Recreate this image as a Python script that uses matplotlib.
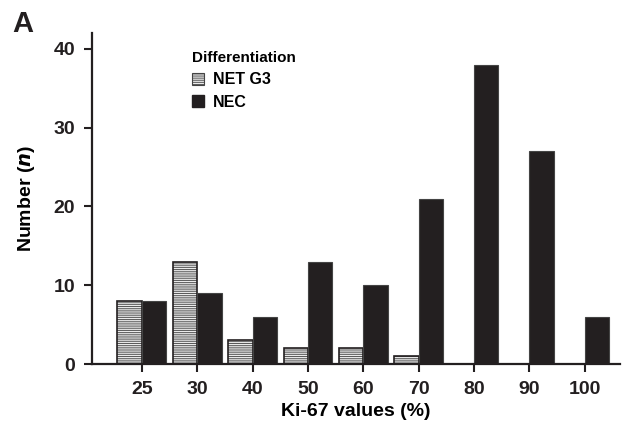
import numpy as np
import matplotlib
matplotlib.use("Agg")
import matplotlib.pyplot as plt
from matplotlib.patches import Patch

# データ
ki67_labels = ["25", "30", "40", "50", "60", "70", "80", "90", "100"]
net_g3 = [8, 13, 3, 2, 2, 1, 0, 0, 0]
nec = [8, 9, 6, 13, 10, 21, 38, 27, 6]

plt.rcParams["font.family"] = ["Liberation Sans", "DejaVu Sans"]
plt.rcParams["font.weight"] = "bold"
plt.rcParams["hatch.linewidth"] = 0.7
plt.rcParams["hatch.color"] = "#555555"

fig = plt.figure(figsize=(6.26, 4.24), dpi=100)
ax = fig.add_axes([0.147, 0.1415, 0.843, 0.7805])

x = np.arange(len(ki67_labels))
w = 0.44
dark = "#231f20"

net_arr = np.array(net_g3, dtype=float)
mask = net_arr > 0
# ハッチ部分とその枠を別々に描く
ax.bar(x[mask] - w / 2, net_arr[mask], width=w, color="white",
       edgecolor="#555555", hatch="---------", linewidth=0)
ax.bar(x[mask] - w / 2, net_arr[mask], width=w, fill=False,
       edgecolor=dark, linewidth=1.2)
ax.bar(x + w / 2, nec, width=w, color=dark, edgecolor="#444444", linewidth=0.8)

ax.set_xlim(-0.9, 8.63)
ax.set_ylim(0, 42)
ax.set_xticks(x)
ax.set_xticklabels(ki67_labels)
ax.set_yticks([0, 10, 20, 30, 40])

for s in ["top", "right"]:
    ax.spines[s].set_visible(False)
for s in ["left", "bottom"]:
    ax.spines[s].set_linewidth(1.6)
    ax.spines[s].set_color(dark)
ax.tick_params(direction="out", length=6, width=1.5, labelsize=14, colors=dark, pad=6)
for t in ax.get_xticklabels() + ax.get_yticklabels():
    t.set_fontweight("bold")

ax.set_xlabel("Ki-67 values (%)", fontsize=14, fontweight="bold", labelpad=4)
ax.set_ylabel("Number ($\\bf{\\it{n}}$)", fontsize=14, fontweight="bold", labelpad=12)

handles = [Patch(facecolor="white", edgecolor="#444444", hatch="--------", linewidth=0.8),
           Patch(facecolor=dark, edgecolor=dark)]
leg = ax.legend(handles, ["NET G3", "NEC"], title="Differentiation", loc="upper left",
                bbox_to_anchor=(0.19, 0.945), frameon=False, fontsize=11.5,
                title_fontsize=11, handlelength=0.75, handleheight=0.75,
                handletextpad=0.55, labelspacing=0.45, borderaxespad=0, borderpad=0)
leg.get_title().set_fontweight("bold")
leg._legend_box.align = "left"
for t in leg.get_texts():
    t.set_fontweight("bold")

fig.text(0.02, 0.925, "A", fontsize=21, fontweight="bold", color=dark)

fig.savefig("out.png", dpi=100)
